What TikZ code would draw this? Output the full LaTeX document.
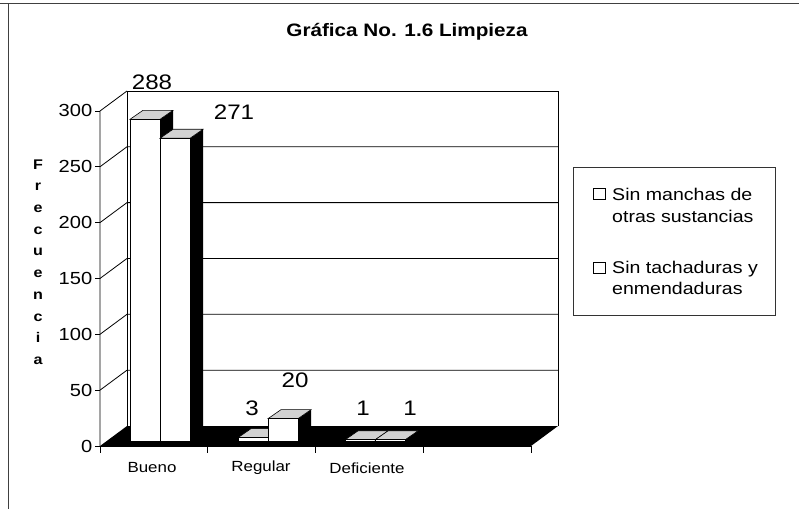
\documentclass[tikz,border=0pt]{standalone}
\usepackage{fontspec}
\setmainfont{Liberation Sans}[FakeStretch=1.15]
\newcommand\titfont{\fontsize{18}{22}\selectfont\bfseries}
\newcommand\tickfont{\fontsize{17.5}{21}\selectfont}
\newcommand\valfont{\fontsize{21}{25}\selectfont}
\newcommand\catfont{\fontsize{14.7}{18}\selectfont}
\newcommand\legfont{\fontsize{17}{21.5}\selectfont}
\newcommand\axfont{\fontsize{14}{21.7}\selectfont\bfseries}
% one bar: left x, value
\newcommand\drawbar[2]{%
  \pgfmathsetmacro\bt{441-1.117*#2}
  \fill[black] (#1+30,441) -- (#1+43,432) -- (#1+43,\bt-9) -- (#1+30,\bt) -- cycle;
  \draw[bartop] (#1,\bt) -- (#1+13,\bt-9) -- (#1+43,\bt-9) -- (#1+30,\bt) -- cycle;
  \draw[barfront] (#1,\bt) rectangle (#1+30,441);
}
\begin{document}
\begin{tikzpicture}[x=1pt,y=-1pt,
  frameline/.style={draw=black!75,line width=0.8pt},
  wall/.style={draw=black,line width=0.8pt},
  barfront/.style={draw=black,fill=white,line width=0.8pt},
  bartop/.style={draw=black,fill=gray!35,line width=0.6pt},
  legbox/.style={draw=black!80,line width=0.7pt}]
  \useasboundingbox (0,0) rectangle (799,509);
  % page frame
  \draw[frameline] (0,3) -- (799,3);
  \draw[frameline] (8,3) -- (8,509);
  \node[font=\titfont] (title) at (407,32) {Gráfica No. 1.6 Limpieza};
  % walls and grid
  \draw[wall] (127,426) -- (127,91) -- (558,91) -- (558,426);
  \draw[wall] (100,446) -- (100,111) -- (127,91);
  \foreach \v in {50,100,...,250}
    \draw[wall] (100,446-1.117*\v) -- (127,426-1.117*\v) -- (558,426-1.117*\v);
  \foreach \v in {0,50,...,300}
    \draw[wall] (95,446-1.117*\v) -- (100,446-1.117*\v)
      node[left=4pt,font=\tickfont] (t\v) {\v};
  % floor
  \fill[black] (100,446) -- (531,446) -- (558,426) -- (127,426) -- cycle;
  \draw[wall] (100,446) -- (531,446);
  \foreach \i in {0,...,4}
    \draw[wall] (100+107.75*\i,446) -- ++(0,7);
  % bars
  \drawbar{130}{288}
  \drawbar{160}{271}
  \drawbar{238}{3}
  \drawbar{268}{20}
  \drawbar{345}{1}
  \drawbar{375}{1}
  % values
  \node[font=\valfont] (v288) at (152,82) {288};
  \node[font=\valfont] (v271) at (234,112) {271};
  \node[font=\valfont] (v3) at (252,408) {3};
  \node[font=\valfont] (v20) at (295,380) {20};
  \node[font=\valfont] (v1a) at (363,408) {1};
  \node[font=\valfont] (v1b) at (410,408) {1};
  % categories
  \node[font=\catfont] (bueno) at (152,468) {Bueno};
  \node[font=\catfont] (regular) at (261,468) {Regular};
  \node[font=\catfont] (deficiente) at (367,468) {Deficiente};
  \node[font=\axfont,align=center] (ytitle) at (38,262) {F\\r\\e\\c\\u\\e\\n\\c\\i\\a};
  % legend
  \draw[legbox] (573,167) rectangle (775,315);
  \draw[barfront] (593,188) rectangle (605,199);
  \draw[barfront] (593,262) rectangle (605,273);
  \node[font=\legfont,anchor=base west,inner sep=0pt] (leg1) at (612,200) {Sin manchas de};
  \node[font=\legfont,anchor=base west,inner sep=0pt] (leg1b) at (612,222) {otras sustancias};
  \node[font=\legfont,anchor=base west,inner sep=0pt] (leg2) at (612,273) {Sin tachaduras y};
  \node[font=\legfont,anchor=base west,inner sep=0pt] (leg2b) at (612,294) {enmendaduras};
\end{tikzpicture}
\end{document}
